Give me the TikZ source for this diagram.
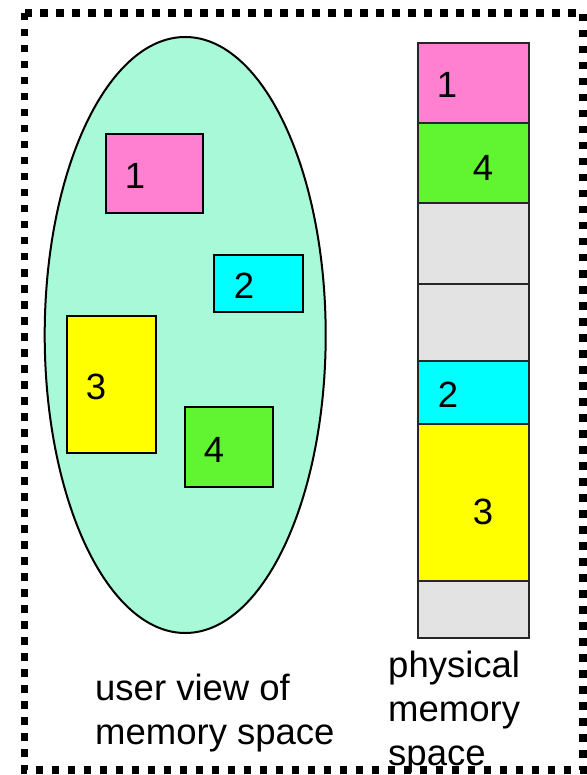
\documentclass[tikz,border=0pt]{standalone}
\usepackage{fontspec}
\setmainfont{Liberation Sans}
\usetikzlibrary{positioning}

\definecolor{mint}{RGB}{168,249,216}
\definecolor{segpink}{RGB}{255,128,208}
\definecolor{seggreen}{RGB}{96,245,48}
\definecolor{segcyan}{RGB}{0,255,255}
\definecolor{segyellow}{RGB}{255,255,0}
\definecolor{freegray}{RGB}{227,227,227}

\begin{document}
\begin{tikzpicture}[x=1pt, y=-1pt,
    seg/.style={draw=black, line width=1.6pt},
    slot/.style={draw=black!85, line width=1.8pt},
    num/.style={font=\fontsize{36.5}{44}\selectfont, inner sep=0pt},
    caption/.style={font=\fontsize{36.5}{44}\selectfont, align=left, inner sep=0pt, anchor=base west}]
    \useasboundingbox (0,0) rectangle (586,775);

    % User view: the segments float in the program's space
    \filldraw[fill=mint, line width=2pt] (185.2,335) ellipse [x radius=140.5pt, y radius=298pt];
    \filldraw[seg, fill=segpink]   (106,134) rectangle (203,213);
    \filldraw[seg, fill=segcyan]   (214,255) rectangle (303,312);
    \filldraw[seg, fill=segyellow] (67,316)  rectangle (156,453);
    \filldraw[seg, fill=seggreen]  (185,407) rectangle (273,487);
    \node[num] (u1) at (135,176) {1};
    \node[num] (u2) at (244,286) {2};
    \node[num] (u3) at (96,387)  {3};
    \node[num] (u4) at (214,450) {4};

    % Physical memory column
    \filldraw[slot, fill=segpink]   (418,43)  rectangle (529,123);
    \filldraw[slot, fill=seggreen]  (418,123) rectangle (529,203);
    \filldraw[slot, fill=freegray]  (418,203) rectangle (529,284);
    \filldraw[slot, fill=freegray]  (418,284) rectangle (529,361);
    \filldraw[slot, fill=segcyan]   (418,361) rectangle (529,424);
    \filldraw[slot, fill=segyellow] (418,424) rectangle (529,581);
    \filldraw[slot, fill=freegray]  (418,581) rectangle (529,638);
    \node[num] (p1) at (447,85)  {1};
    \node[num] (p4) at (483,168) {4};
    \node[num] (p2) at (448,395) {2};
    \node[num] (p3) at (483,512) {3};

    % Captions (base anchor sits on the last line)
    \node[caption] (userlbl) at (95,744) {user view of\\memory space};
    \node[caption] (physlbl) at (388,765) {physical\\memory\\space};

    % Dotted frame
    \draw[line width=7.5pt, dash pattern=on 7.5pt off 8.5pt] (24.5,13) rectangle (583,770);
\end{tikzpicture}
\end{document}
